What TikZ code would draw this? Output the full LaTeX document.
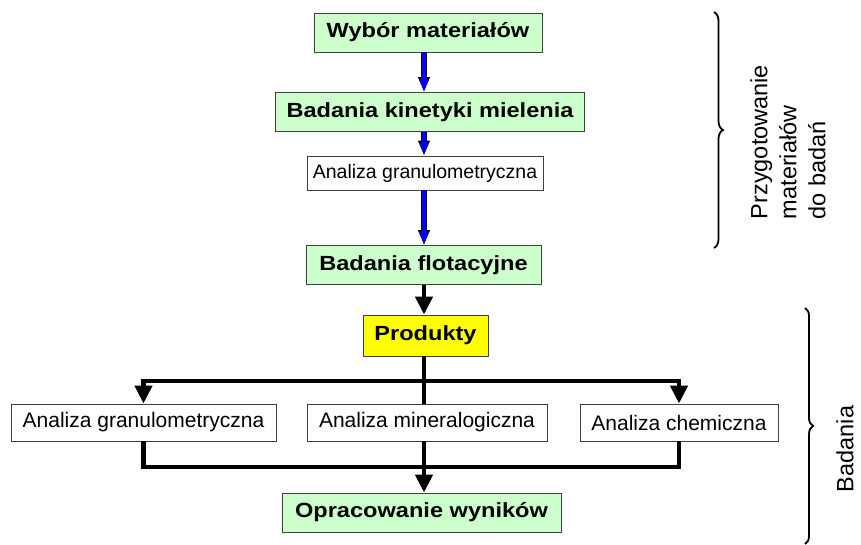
\documentclass[tikz,border=0pt]{standalone}
\usepackage{fontspec}
\setmainfont{Liberation Sans}
\newfontfamily\widefont[FakeStretch=1.15]{Liberation Sans}
\usetikzlibrary{arrows.meta,decorations.pathreplacing}
\definecolor{boxgreen}{RGB}{204,255,204}
\definecolor{boxyellow}{RGB}{255,255,0}

\begin{document}
\begin{tikzpicture}[x=1pt,y=-1pt,
	box/.style={draw=black!75,line width=0.9pt,inner sep=0pt,align=center},
	greenbox/.style={box,fill=boxgreen,font={\widefont\bfseries\fontsize{20.5}{24}\selectfont}},
	yellowbox/.style={greenbox,fill=boxyellow},
	whitebox/.style={box,fill=white,font={\fontsize{21}{24}\selectfont}},
	bluearrow/.style={draw=blue,line width=3.4pt,-{Triangle[width=8pt,length=13pt]},
		preaction={draw=black,line width=5.6pt,-{Triangle[width=11pt,length=15pt]}}},
	blackline/.style={draw=black,line width=4.5pt},
	blackarrow/.style={blackline,-{Triangle[width=17pt,length=18pt]}},
	bracket/.style={decorate,decoration={brace,amplitude=9pt},line width=1.8pt},
	sidelabel/.style={rotate=90,align=left,inner sep=0pt,font={\fontsize{23.5}{29}\selectfont}}]

	\useasboundingbox (0,0) rectangle (861,545);
	\coordinate (axis) at (424,0);

	% preparation
	\node[greenbox,minimum width=228pt,minimum height=39pt] (wybor) at (428,32.5) {Wybór materiałów};
	\node[greenbox,minimum width=309pt,minimum height=39pt] (kinetyka) at (430,112) {Badania kinetyki mielenia};
	\node[whitebox,minimum width=236pt,minimum height=34pt,font={\fontsize{19.5}{22}\selectfont}] (granul1) at (425,173) {Analiza granulometryczna};
	\node[greenbox,minimum width=235pt,minimum height=39pt] (flotacja) at (423.5,265) {Badania flotacyjne};

	\draw[bluearrow] (wybor.south -| axis) -- (kinetyka.north -| axis);
	\draw[bluearrow] (kinetyka.south -| axis) -- (granul1.north -| axis);
	\draw[bluearrow] (granul1.south -| axis) -- (flotacja.north -| axis);

	% tests
	\node[yellowbox,minimum width=125pt,minimum height=41pt] (produkty) at (425.5,335.5) {Produkty};
	\node[whitebox,minimum width=265pt,minimum height=37pt] (granul2) at (143.5,422.5) {Analiza granulometryczna};
	\node[whitebox,minimum width=240pt,minimum height=37pt] (mineral) at (427,422.5) {Analiza mineralogiczna};
	\node[whitebox,minimum width=198pt,minimum height=37pt] (chem) at (679,422.5) {Analiza chemiczna};
	\node[greenbox,minimum width=279pt,minimum height=39pt] (wyniki) at (421.5,512.5) {Opracowanie wyników};

	\coordinate (split) at (424,381);
	\coordinate (join) at (424,467);

	\draw[blackarrow] (flotacja.south -| axis) -- (produkty.north -| axis);
	\draw[blackline] (produkty.south -| axis) -- (mineral.north -| axis);
	\draw[blackarrow] (split) -| (granul2.north);
	\draw[blackarrow] (split) -| (chem.north);
	\draw[blackline] (granul2.south) |- (join) -| (chem.south);
	\draw[blackarrow] (mineral.south -| axis) -- (wyniki.north -| axis);

	% braces
	\draw[bracket] (714,12) -- (714,248);
	\node[sidelabel] (przyg) at (788,142) {Przygotowanie\\materiałów\\do badań};
	\draw[bracket,decoration={amplitude=8pt}] (805,308) -- (805,544);
	\node[sidelabel] (badania) at (845,449) {Badania};

\end{tikzpicture}
\end{document}
